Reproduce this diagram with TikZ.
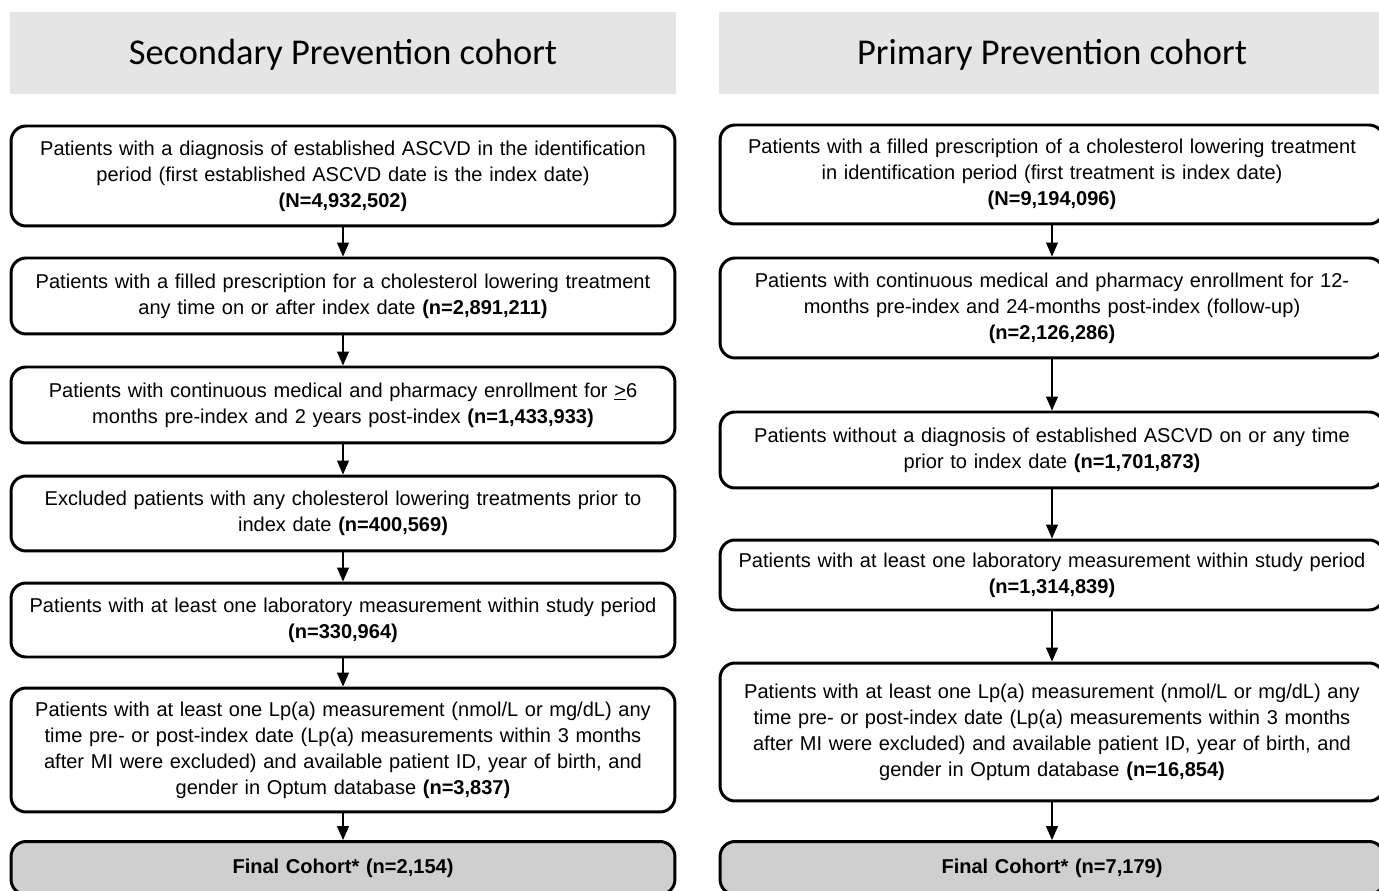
\documentclass[tikz,border=0pt]{standalone}
\usepackage{fontspec}
\setmainfont{Liberation Sans}
\newfontfamily\titlefont{Carlito}
\usetikzlibrary{arrows.meta}

\tikzset{
  stage/.style={draw, line width=1.7pt, rounded corners=0.3cm, minimum width=13.28cm,
    text width=13cm, align=center, inner sep=0pt, font=\fontsize{11.4}{14.8}\selectfont},
  final/.style={stage, fill=black!19, minimum height=1.06cm},
  header/.style={fill=black!10, minimum width=13.32cm, minimum height=1.64cm, inner sep=0pt,
    text height=0.48cm, text depth=0pt, font=\titlefont\fontsize{20.7}{24}\selectfont},
  flow/.style={line width=0.6pt, -{Triangle[width=0.24cm, length=0.28cm]}}
}

\begin{document}
\begin{tikzpicture}[x=0.02cm, y=-0.02cm]
		%%%%% FRAME %%%%%
		\clip (0,0) rectangle (1379,891);
		
		%%%%% SECONDARY PREVENTION %%%%%
		\node[header] (sechead) at (343,53) {Secondary Prevention cohort};
		
		\node[stage, minimum height=2cm] (sec1) at (343,176) {Patients with a diagnosis of established ASCVD in the identification\\ period (first established ASCVD date is the index date)\\ \textbf{(N=4,932,502)}};
		\node[stage, minimum height=1.52cm] (sec2) at (343,296) {Patients with a filled prescription for a cholesterol lowering treatment\\ any time on or after index date \textbf{(n=2,891,211)}};
		\node[stage, minimum height=1.52cm] (sec3) at (343,405) {Patients with continuous medical and pharmacy enrollment for \underline{>}6\\ months pre-index and 2 years post-index \textbf{(n=1,433,933)}};
		\node[stage, minimum height=1.5cm] (sec4) at (343,513.5) {Excluded patients with any cholesterol lowering treatments prior to\\ index date \textbf{(n=400,569)}};
		\node[stage, minimum height=1.48cm] (sec5) at (343,620) {Patients with at least one laboratory measurement within study period\\ \textbf{(n=330,964)}};
		\node[stage, minimum height=2.48cm] (sec6) at (343,750) {Patients with at least one Lp(a) measurement (nmol/L or mg/dL) any\\ time pre- or post-index date (Lp(a) measurements within 3 months\\ after MI were excluded) and available patient ID, year of birth, and\\ gender in Optum database \textbf{(n=3,837)}};
		\node[final] (secfin) at (343,868) {\textbf{Final Cohort* (n=2,154)}};
		
		\draw[flow] (sec1) -- (sec2);
		\draw[flow] (sec2) -- (sec3);
		\draw[flow] (sec3) -- (sec4);
		\draw[flow] (sec4) -- (sec5);
		\draw[flow] (sec5) -- (sec6);
		\draw[flow] (sec6) -- (secfin);
		
		%%%%% PRIMARY PREVENTION %%%%%
		\node[header] (prihead) at (1052,53) {Primary Prevention cohort};
		
		\node[stage, minimum height=1.98cm] (pri1) at (1052,174.5) {Patients with a filled prescription of a cholesterol lowering treatment\\ in identification period (first treatment is index date)\\ \textbf{(N=9,194,096)}};
		\node[stage, minimum height=2cm] (pri2) at (1052,308) {Patients with continuous medical and pharmacy enrollment for 12-\\ months pre-index and 24-months post-index (follow-up)\\ \textbf{(n=2,126,286)}};
		\node[stage, minimum height=1.52cm] (pri3) at (1052,450) {Patients without a diagnosis of established ASCVD on or any time\\ prior to index date \textbf{(n=1,701,873)}};
		\node[stage, minimum height=1.4cm] (pri4) at (1052,575) {Patients with at least one laboratory measurement within study period\\ \textbf{(n=1,314,839)}};
		\node[stage, minimum height=2.76cm] (pri5) at (1052,732) {Patients with at least one Lp(a) measurement (nmol/L or mg/dL) any\\ time pre- or post-index date (Lp(a) measurements within 3 months\\ after MI were excluded) and available patient ID, year of birth, and\\ gender in Optum database \textbf{(n=16,854)}};
		\node[final] (prifin) at (1052,868) {\textbf{Final Cohort* (n=7,179)}};
		
		\draw[flow] (pri1) -- (pri2);
		\draw[flow] (pri2) -- (pri3);
		\draw[flow] (pri3) -- (pri4);
		\draw[flow] (pri4) -- (pri5);
		\draw[flow] (pri5) -- (prifin);
		
		%%%%% END %%%%%
	\end{tikzpicture}
\end{document}
